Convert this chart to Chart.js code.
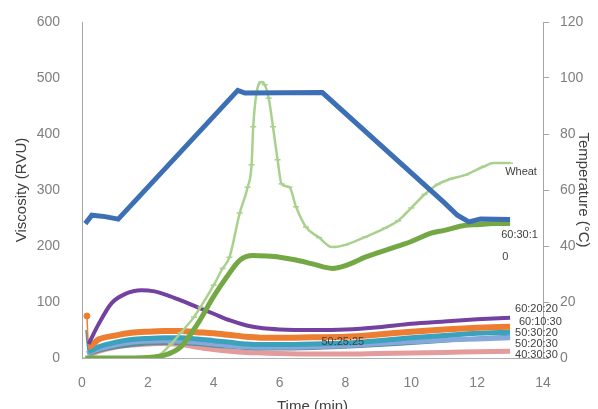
<!DOCTYPE html>
<html>
<head>
<meta charset="utf-8">
<script src="https://cdn.jsdelivr.net/npm/chart.js@4.4.0/dist/chart.umd.min.js"></script>
<style>
  html, body { margin: 0; padding: 0; background: #fff; }
</style>
</head>
<body>
<canvas id="mycanvas" width="598" height="409"></canvas>
<script>
// temperature profile (right axis, deg C)
var tempTime = [0.1, 0.3, 0.7, 1.1, 4.73, 4.95, 7.3, 11.0, 11.4, 11.75, 12.1, 13.0];
var tempValues = [48, 51, 50.5, 49.6, 95.6, 94.6, 94.8, 55.5, 51, 48.6, 49.6, 49.5];

// viscosity curves (left axis, RVU)
var wheatTime = [0.1, 1.0, 2.0, 2.3, 2.7, 3.0, 3.4, 3.6, 4.0, 4.27, 4.48, 4.79, 5.03, 5.15, 5.2, 5.3, 5.45, 5.55, 5.67, 5.8, 5.94, 6.06, 6.3, 6.5, 6.8, 7.2, 7.6, 8.0, 8.6, 9.2, 9.6, 10.0, 10.4, 10.8, 11.2, 11.65, 12.2, 12.5, 13.0];
var wheatValues = [0, 1, 2, 4, 25, 45, 73, 91, 130, 160, 180, 259, 305, 345, 413, 473, 493, 488, 464, 413, 354, 311, 305, 270, 234, 215, 198, 202, 216, 232, 245, 268, 292, 310, 320, 327, 342, 348, 348];

var g603010Time = [0.1, 1.0, 2.0, 2.5, 3.0, 3.5, 4.0, 4.4, 4.8, 5.2, 5.6, 6.0, 6.5, 7.0, 7.6, 8.0, 8.6, 9.0, 9.5, 10.0, 10.6, 11.0, 11.65, 12.0, 12.5, 13.0];
var g603010Values = [0, 0, 1, 5, 20, 60, 110, 145, 175, 183, 182, 180, 175, 168, 160, 165, 180, 188, 198, 208, 223, 228, 237, 238, 240, 240];

var p602020Time = [0.2, 0.5, 0.9, 1.3, 1.8, 2.2, 2.6, 3.0, 3.5, 4.0, 4.5, 5.0, 5.5, 6.0, 7.0, 8.0, 9.0, 10.0, 11.0, 12.0, 13.0];
var p602020Values = [25, 60, 98, 114, 121, 119, 112, 103, 91, 79, 67, 58, 53, 51, 50, 51, 55, 61, 65, 69, 72];

var o601030Time = [0.15, 0.2, 0.5, 1.0, 1.5, 2.0, 2.5, 3.0, 3.5, 4.0, 4.5, 5.0, 5.5, 6.0, 7.0, 8.0, 9.0, 10.0, 11.0, 12.0, 13.0];
var o601030Values = [75, 20, 33, 40, 45, 47, 48, 48, 46, 44, 41, 38, 36, 36, 37, 38, 42, 47, 51, 54, 56];

var t503020Time = [0.15, 0.2, 0.5, 1.0, 1.5, 2.0, 2.5, 3.0, 3.5, 4.0, 4.5, 5.0, 5.5, 6.0, 7.0, 8.0, 9.0, 10.0, 11.0, 12.0, 13.0];
var t503020Values = [45, 12, 20, 28, 33, 35, 36, 36, 34, 31, 28, 25, 24, 24, 25, 27, 31, 36, 40, 44, 46];

var s502525Time = [0.12, 0.2, 0.5, 1.0, 1.5, 2.0, 2.5, 3.0, 3.5, 4.0, 4.5, 5.0, 5.5, 6.0, 7.0, 8.0, 9.0, 10.0, 11.0, 12.0, 13.0];
var s502525Values = [50, 8, 13, 19, 23, 26, 27, 27, 25, 22, 20, 18, 17, 17, 18, 20, 23, 27, 31, 35, 38];

var b502030Time = [0.15, 0.5, 1.0, 1.5, 2.0, 2.5, 3.0, 3.5, 4.0, 4.5, 5.0, 5.5, 6.0, 7.0, 8.0, 9.0, 10.0, 11.0, 12.0, 13.0];
var b502030Values = [8, 16, 23, 28, 30, 31, 30, 28, 25, 22, 20, 19, 19, 20, 22, 26, 29, 32, 34, 36];

var r403030Time = [0.2, 0.5, 1.0, 1.5, 2.0, 2.3, 3.0, 3.5, 4.0, 4.5, 5.0, 5.5, 6.0, 7.0, 8.0, 9.0, 10.0, 11.0, 12.0, 13.0];
var r403030Values = [5, 12, 19, 23, 25, 26, 24, 19, 15, 12, 10, 9, 8, 7, 7, 8, 9, 10, 11, 12];

// text labels placed next to the curves (time, RVU)
var labelTexts = ['Wheat', '60:30:1', '0', '60:20:20', '60:10:30', '50:30:20', '50:20:30', '40:30:30', '50:25:25'];
var labelTimes = [12.85, 12.73, 12.76, 13.15, 13.27, 13.15, 13.15, 13.15, 7.27];
var labelValues = [332, 220, 180, 87, 64, 45, 25, 5, 28];

function pts(xs, ys) {
  var out = [];
  for (var i in xs) {
    out.push({ x: xs[i], y: ys[i] });
  }
  return out;
}

function series(label, xs, ys, color, width, order) {
  return {
    label: label,
    data: pts(xs, ys),
    borderColor: color,
    backgroundColor: color,
    borderWidth: width,
    pointRadius: 0,
    cubicInterpolationMode: 'monotone',
    yAxisID: 'y',
    order: order
  };
}

// first reading of some runs is a short spike: draw that segment thin
function thinStart(ds) {
  ds.segment = {
    borderWidth: function(c) { return c.p0DataIndex === 0 ? 1.5 : undefined; }
  };
  return ds;
}

var labelPlugin = {
  id: 'seriesLabels',
  afterDatasetsDraw: function(chart) {
    var ctx = chart.ctx;
    var xs = chart.scales.x;
    var ys = chart.scales.y;
    ctx.save();
    ctx.font = '11px "Liberation Sans"';
    ctx.fillStyle = '#404040';
    ctx.textAlign = 'left';
    ctx.textBaseline = 'middle';
    for (var i in labelTexts) {
      ctx.fillText(labelTexts[i], xs.getPixelForValue(labelTimes[i]), ys.getPixelForValue(labelValues[i]));
    }
    ctx.restore();
  }
};

var wheat = series('Wheat', wheatTime, wheatValues, '#a9d18e', 2.5, 3);
wheat.pointRadius = 3;
wheat.pointStyle = 'line';
wheat.pointBorderWidth = 1.5;

var temp = series('Temperature', tempTime, tempValues, '#3d6fb5', 5, 1);
temp.yAxisID = 'y2';
temp.cubicInterpolationMode = 'default';
temp.tension = 0;

// only the first reading of 60:10:30 shows its round marker
var orange = thinStart(series('60:10:30', o601030Time, o601030Values, '#ed7d31', 6, 5));
orange.pointStyle = 'circle';
orange.pointBorderWidth = 1;
orange.pointRadius = function(c) { return c.dataIndex === 0 ? 3 : 0; };

var chartdata = {
  datasets: [
    temp,
    wheat,
    series('60:30:10', g603010Time, g603010Values, '#74a845', 5, 2),
    series('60:20:20', p602020Time, p602020Values, '#7342a0', 4, 4),
    orange,
    thinStart(series('50:30:20', t503020Time, t503020Values, '#3aa2bd', 5, 6)),
    thinStart(series('50:25:25', s502525Time, s502525Values, '#5b8e96', 4, 8)),
    series('50:20:30', b502030Time, b502030Values, '#86a8dc', 5, 7),
    series('40:30:30', r403030Time, r403030Values, '#e39b9b', 5, 9)
  ]
};

var tickFont = { family: '"Liberation Sans"', size: 14 };
var titleFont = { family: '"Liberation Sans"', size: 15 };

var ctx = document.getElementById('mycanvas');

var lineGraph = new Chart(ctx, {
  type: 'line',
  data: chartdata,
  plugins: [labelPlugin],
  options: {
    responsive: false,
    animation: false,
    layout: { padding: { top: 22, left: 0, right: 0, bottom: 0 } },
    plugins: {
      legend: { display: false },
      tooltip: { enabled: false }
    },
    scales: {
      x: {
        type: 'linear',
        min: 0,
        max: 14,
        grid: { display: false, drawTicks: false },
        border: { display: true, color: '#b0b0b0', width: 1 },
        ticks: { stepSize: 2, color: '#7f7f7f', font: tickFont, padding: 17 },
        title: { display: true, text: 'Time (min)', color: '#404040', font: titleFont, padding: { top: 0, bottom: -7 } },
        afterFit: function(scale) { scale.height = 51; }
      },
      y: {
        position: 'left',
        min: 0,
        max: 600,
        grid: { display: false, drawTicks: true, tickLength: 22 },
        border: { display: true, color: '#a6a6a6', width: 1 },
        ticks: { stepSize: 100, color: '#7f7f7f', font: tickFont, padding: 0 },
        title: { display: true, text: 'Viscosity (RVU)', color: '#404040', font: titleFont, padding: { top: 13, bottom: 0 } },
        afterFit: function(scale) { scale.width = 82; }
      },
      y2: {
        position: 'right',
        min: 0,
        max: 120,
        grid: { display: true, drawOnChartArea: false, drawTicks: true, tickLength: 6, color: '#a6a6a6' },
        border: { display: true, color: '#a6a6a6', width: 1 },
        ticks: { stepSize: 20, color: '#7f7f7f', font: tickFont, padding: 11 },
        title: { display: true, text: 'Temperature (°C)', color: '#404040', font: titleFont, padding: { top: 6, bottom: 0 } },
        afterFit: function(scale) { scale.width = 55; }
      }
    }
  }
});
</script>
</body>
</html>
